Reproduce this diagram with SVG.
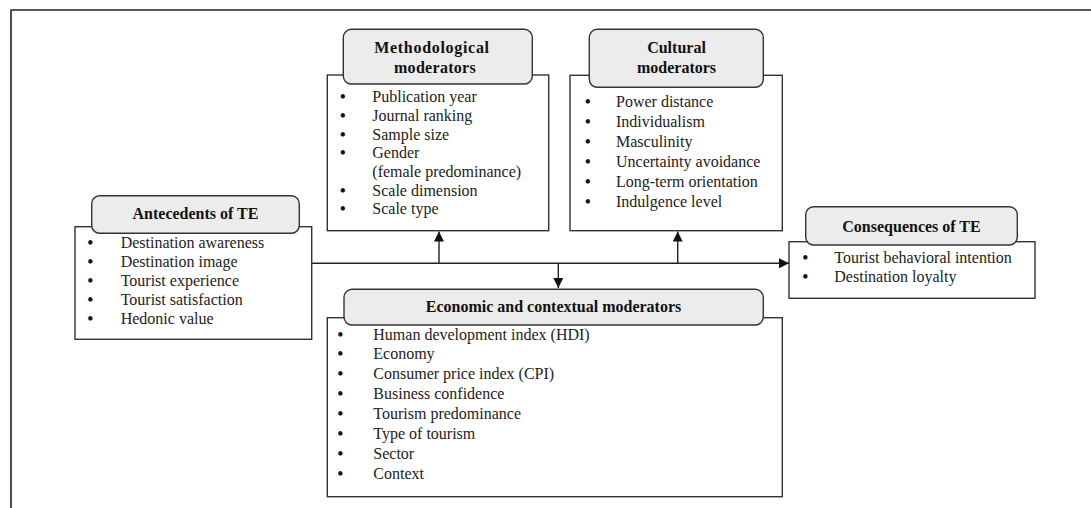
<svg xmlns="http://www.w3.org/2000/svg" width="1091" height="508" viewBox="0 0 1091 508">
<style>
.body{fill:#fff;stroke:#333;stroke-width:1.4}
.head{fill:#ececec;stroke:#333;stroke-width:1.4}
.ht{font-family:"Liberation Serif",serif;font-weight:bold;font-size:16px;fill:#111;text-anchor:middle}
.it{font-family:"Liberation Serif",serif;font-size:16px;fill:#222}
.bl{font-family:"Liberation Serif",serif;font-weight:bold;font-size:16px;fill:#111}
.conn{stroke:#222;stroke-width:1.4;fill:none}
</style>
<defs>
<marker id="ah" viewBox="0 0 10 10" refX="10" refY="5" markerWidth="10" markerHeight="10" markerUnits="userSpaceOnUse" orient="auto">
<path d="M0,0 L10,5 L0,10 z" fill="#111"/>
</marker>
</defs>
<rect width="1091" height="508" fill="#fff"/>
<path d="M11,508 V10 H1091" fill="none" stroke="#222" stroke-width="1.6"/>

<g id="connectors">
<path class="conn" d="M311.7,263.3 H789" marker-end="url(#ah)"/>
<path class="conn" d="M439,263.3 V231.5" marker-end="url(#ah)"/>
<path class="conn" d="M677.7,263.3 V231.5" marker-end="url(#ah)"/>
<path class="conn" d="M558.3,263.3 V288" marker-end="url(#ah)"/>
</g>

<g id="methodological">
<rect class="body" x="327.3" y="75" width="221.4" height="155.7"/>
<rect class="head" x="343.3" y="29.3" width="189" height="54.7" rx="8"/>
<text class="ht" x="432" y="52.7" letter-spacing="0.7">Methodological</text>
<text class="ht" x="435" y="73.3" letter-spacing="0.3">moderators</text>
<g class="bl">
<text x="340" y="102.3">•</text>
<text x="340" y="120.7">•</text>
<text x="340" y="140">•</text>
<text x="340" y="158.3">•</text>
<text x="340" y="195.7">•</text>
<text x="340" y="214">•</text>
</g>
<g class="it">
<text x="372.3" y="102.3">Publication  year</text>
<text x="372.3" y="120.7">Journal ranking</text>
<text x="372.3" y="140">Sample size</text>
<text x="372.3" y="158.3">Gender</text>
<text x="372.3" y="176.7">(female  predominance)</text>
<text x="372.3" y="195.7">Scale dimension</text>
<text x="372.3" y="214">Scale type</text>
</g>
</g>

<g id="cultural">
<rect class="body" x="570" y="75.3" width="212.3" height="155.4"/>
<rect class="head" x="589.3" y="29.3" width="174" height="58" rx="8"/>
<text class="ht" x="676.5" y="53.3">Cultural</text>
<text class="ht" x="676.5" y="73.3">moderators</text>
<g class="bl">
<text x="585" y="107.3">•</text>
<text x="585" y="127.3">•</text>
<text x="585" y="147.3">•</text>
<text x="585" y="167.3">•</text>
<text x="585" y="187.3">•</text>
<text x="585" y="207.3">•</text>
</g>
<g class="it">
<text x="616" y="107.3">Power distance</text>
<text x="616" y="127.3">Individualism</text>
<text x="616" y="147.3">Masculinity</text>
<text x="616" y="167.3">Uncertainty  avoidance</text>
<text x="616" y="187.3">Long-term orientation</text>
<text x="616" y="207.3">Indulgence level</text>
</g>
</g>

<g id="antecedents">
<rect class="body" x="75" y="226.7" width="236.7" height="112.6"/>
<rect class="head" x="91.7" y="195.7" width="207.6" height="37.6" rx="8"/>
<text class="ht" x="195.5" y="219.3">Antecedents of TE</text>
<g class="bl">
<text x="87.5" y="248.3">•</text>
<text x="87.5" y="267.3">•</text>
<text x="87.5" y="286">•</text>
<text x="87.5" y="305">•</text>
<text x="87.5" y="324">•</text>
</g>
<g class="it">
<text x="120.7" y="248.3">Destination awareness</text>
<text x="120.7" y="267.3">Destination image</text>
<text x="120.7" y="286">Tourist experience</text>
<text x="120.7" y="305">Tourist satisfaction</text>
<text x="120.7" y="324">Hedonic value</text>
</g>
</g>

<g id="consequences">
<rect class="body" x="789" y="241.7" width="246" height="56.6"/>
<rect class="head" x="805.7" y="206.7" width="211.6" height="38.3" rx="8"/>
<text class="ht" x="911.5" y="231.7">Consequences of TE</text>
<g class="bl">
<text x="802.5" y="263.3">•</text>
<text x="802.5" y="281.7">•</text>
</g>
<g class="it">
<text x="834.3" y="263.3">Tourist behavioral intention</text>
<text x="834.3" y="281.7">Destination loyalty</text>
</g>
</g>

<g id="economic">
<rect class="body" x="327.3" y="317.7" width="455" height="179"/>
<rect class="head" x="344" y="289.3" width="419.3" height="35.7" rx="8"/>
<text class="ht" x="553.5" y="311.7">Economic and contextual moderators</text>
<g class="bl">
<text x="337.5" y="340">•</text>
<text x="337.5" y="359.3">•</text>
<text x="337.5" y="379.3">•</text>
<text x="337.5" y="399.3">•</text>
<text x="337.5" y="419.3">•</text>
<text x="337.5" y="439.3">•</text>
<text x="337.5" y="459">•</text>
<text x="337.5" y="479">•</text>
</g>
<g class="it">
<text x="373.3" y="340">Human development  index (HDI)</text>
<text x="373.3" y="359.3">Economy</text>
<text x="373.3" y="379.3">Consumer price index (CPI)</text>
<text x="373.3" y="399.3">Business confidence</text>
<text x="373.3" y="419.3">Tourism predominance</text>
<text x="373.3" y="439.3">Type of tourism</text>
<text x="373.3" y="459">Sector</text>
<text x="373.3" y="479">Context</text>
</g>
</g>
</svg>
